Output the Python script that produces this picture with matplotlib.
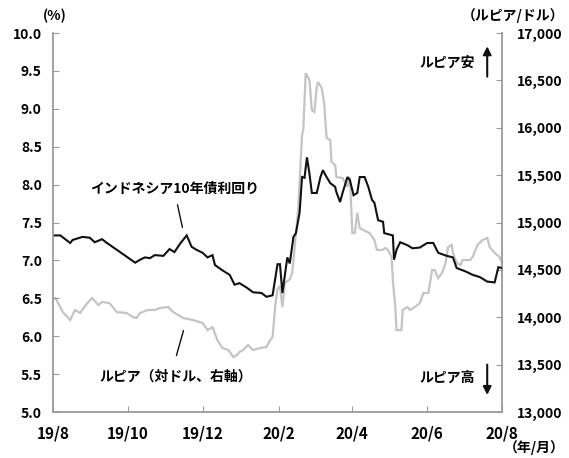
import matplotlib
matplotlib.use("Agg")
import matplotlib.pyplot as plt
import pandas as pd

plt.rcParams['font.family'] = ['Noto Sans CJK JP', 'DejaVu Sans']
plt.rcParams['font.weight'] = 'bold'

# Indonesia 10-year government bond yield (%)
yield_dates = [
    "2019-08-01", "2019-08-07", "2019-08-15", "2019-08-17", "2019-08-25", "2019-08-31",
    "2019-09-04", "2019-09-10", "2019-09-14", "2019-09-22", "2019-09-30",
    "2019-10-07", "2019-10-11", "2019-10-15", "2019-10-19", "2019-10-23", "2019-10-30",
    "2019-11-04", "2019-11-08", "2019-11-13", "2019-11-18", "2019-11-22", "2019-11-26",
    "2019-12-01", "2019-12-05", "2019-12-09", "2019-12-11", "2019-12-17", "2019-12-23",
    "2019-12-27", "2019-12-31", "2020-01-06", "2020-01-11", "2020-01-18", "2020-01-22",
    "2020-01-27", "2020-01-31", "2020-02-02", "2020-02-04", "2020-02-08", "2020-02-10",
    "2020-02-13", "2020-02-15", "2020-02-18", "2020-02-20", "2020-02-22", "2020-02-24",
    "2020-02-26", "2020-02-28", "2020-03-03", "2020-03-06", "2020-03-08", "2020-03-11",
    "2020-03-14", "2020-03-18", "2020-03-19", "2020-03-22", "2020-03-24", "2020-03-28",
    "2020-03-30", "2020-04-02", "2020-04-05", "2020-04-07", "2020-04-11", "2020-04-14",
    "2020-04-17", "2020-04-19", "2020-04-22", "2020-04-26", "2020-04-27", "2020-05-04",
    "2020-05-05", "2020-05-07", "2020-05-10", "2020-05-16", "2020-05-20", "2020-05-26",
    "2020-06-01", "2020-06-06", "2020-06-10", "2020-06-17", "2020-06-22", "2020-06-25",
    "2020-07-03", "2020-07-08", "2020-07-14", "2020-07-20", "2020-07-26", "2020-07-29",
    "2020-08-01",
]
yield_values = [
    7.33, 7.33, 7.23, 7.27, 7.31, 7.30,
    7.24, 7.28, 7.23, 7.14, 7.05,
    6.97, 7.01, 7.04, 7.03, 7.07, 7.06,
    7.15, 7.11, 7.23, 7.33, 7.18, 7.14,
    7.10, 7.04, 7.07, 6.94, 6.87, 6.81,
    6.68, 6.70, 6.64, 6.58, 6.57, 6.52,
    6.54, 6.95, 6.95, 6.57, 7.04, 6.96,
    7.31, 7.36, 7.63, 8.10, 8.09, 8.36,
    8.15, 7.89, 7.89, 8.10, 8.19, 8.10,
    8.02, 7.97, 7.90, 7.77, 7.89, 8.10,
    8.06, 7.86, 7.89, 8.10, 8.10, 7.97,
    7.80, 7.76, 7.53, 7.51, 7.36, 7.33,
    7.01, 7.14, 7.24, 7.20, 7.16, 7.17,
    7.23, 7.23, 7.10, 7.06, 7.04, 6.90,
    6.85, 6.81, 6.78, 6.72, 6.71, 6.91,
    6.90,
]

# Rupiah per US dollar (right axis)
idr_dates = [
    "2019-08-01", "2019-08-03", "2019-08-09", "2019-08-15", "2019-08-19", "2019-08-23",
    "2019-08-29", "2019-09-02", "2019-09-07", "2019-09-10", "2019-09-16", "2019-09-22",
    "2019-09-30", "2019-10-05", "2019-10-08", "2019-10-11", "2019-10-17", "2019-10-23",
    "2019-10-27", "2019-11-03", "2019-11-07", "2019-11-15", "2019-11-23", "2019-12-01",
    "2019-12-05", "2019-12-09", "2019-12-13", "2019-12-17", "2019-12-22", "2019-12-26",
    "2019-12-29", "2019-12-31", "2020-01-03", "2020-01-07", "2020-01-11", "2020-01-17",
    "2020-01-22", "2020-01-25", "2020-01-27", "2020-01-29", "2020-01-31", "2020-02-02",
    "2020-02-04", "2020-02-06", "2020-02-10", "2020-02-12", "2020-02-14", "2020-02-17",
    "2020-02-20", "2020-02-21", "2020-02-23", "2020-02-26", "2020-02-28", "2020-03-01",
    "2020-03-03", "2020-03-04", "2020-03-07", "2020-03-09", "2020-03-11", "2020-03-14",
    "2020-03-15", "2020-03-18", "2020-03-19", "2020-03-24", "2020-03-28", "2020-03-30",
    "2020-04-01", "2020-04-03", "2020-04-05", "2020-04-07", "2020-04-10", "2020-04-15",
    "2020-04-19", "2020-04-21", "2020-04-25", "2020-04-28", "2020-04-30", "2020-05-03",
    "2020-05-04", "2020-05-06", "2020-05-07", "2020-05-11", "2020-05-12", "2020-05-16",
    "2020-05-18", "2020-05-23", "2020-05-26", "2020-05-29", "2020-06-02", "2020-06-05",
    "2020-06-07", "2020-06-10", "2020-06-13", "2020-06-16", "2020-06-18", "2020-06-21",
    "2020-06-22", "2020-06-25", "2020-06-28", "2020-06-30", "2020-07-06", "2020-07-08",
    "2020-07-12", "2020-07-16", "2020-07-20", "2020-07-22", "2020-07-26", "2020-07-30",
    "2020-08-01",
]
idr_values = [
    14200, 14203, 14055, 13971, 14077, 14045,
    14150, 14203, 14129, 14161, 14150, 14055,
    14045, 14003, 13992, 14045, 14077, 14077,
    14098, 14108, 14055, 13992, 13971, 13939,
    13865, 13897, 13760, 13676, 13654, 13580,
    13602, 13633, 13654, 13707, 13654, 13676,
    13686, 13760, 13792, 14100, 14300, 14330,
    14108, 14361, 14400, 14467, 14741, 15164,
    15923, 15976, 16578, 16504, 16187, 16166,
    16430, 16483, 16420, 16261, 15892, 15871,
    15639, 15607, 15480, 15470, 15375, 15480,
    14889, 14889, 15100, 14942, 14921, 14889,
    14815, 14710, 14710, 14731, 14710, 14636,
    14393, 14108, 13865, 13865, 14077, 14108,
    14077, 14118, 14150, 14256, 14256, 14499,
    14499, 14414, 14467, 14573, 14741, 14763,
    14678, 14573, 14551, 14604, 14604, 14636,
    14763, 14815, 14837, 14741, 14678, 14636,
    14573,
]

tick_dates = ["2019-08-01", "2019-10-01", "2019-12-01", "2020-02-01",
              "2020-04-01", "2020-06-01", "2020-08-01"]
tick_labels = ["19/8", "19/10", "19/12", "20/2", "20/4", "20/6", "20/8"]
left_ticks = [5.0, 5.5, 6.0, 6.5, 7.0, 7.5, 8.0, 8.5, 9.0, 9.5, 10.0]
right_ticks = [13000, 13500, 14000, 14500, 15000, 15500, 16000, 16500, 17000]

SPINE = "#9a9a9a"
FS = 10

fig = plt.figure(figsize=(5.69, 4.58), dpi=100)
ax = fig.add_axes([0.0931, 0.1004, 0.7892, 0.8275])
ax2 = ax.twinx()
ax.set_zorder(ax2.get_zorder() + 1)
ax.patch.set_visible(False)

ax2.plot(pd.to_datetime(idr_dates), idr_values, color="#c4c4c4", lw=1.6,
         solid_joinstyle="miter")
ax.plot(pd.to_datetime(yield_dates), yield_values, color="#111111", lw=1.5,
        solid_joinstyle="miter")

ax.set_xlim(pd.Timestamp("2019-08-01"), pd.Timestamp("2020-08-01"))
ax.set_ylim(5.0, 10.0)
ax2.set_ylim(13000, 17000)

ax.set_xticks(pd.to_datetime(tick_dates))
ax.set_xticklabels(tick_labels, fontsize=FS + 1)
ax.set_yticks(left_ticks)
ax.set_yticklabels([f"{v:.1f}" for v in left_ticks], fontsize=FS)
ax2.set_yticks(right_ticks)
ax2.set_yticklabels([f"{v:,}" for v in right_ticks], fontsize=FS)

for a in (ax, ax2):
    a.spines["top"].set_visible(False)
    for s in ("left", "right", "bottom"):
        a.spines[s].set_color(SPINE)
        a.spines[s].set_linewidth(1.3)
ax.spines["right"].set_visible(False)
ax2.spines["left"].set_visible(False)
ax2.spines["bottom"].set_visible(False)

ax.tick_params(axis="y", direction="in", length=4, color=SPINE, pad=8)
ax.tick_params(axis="x", direction="in", length=4, color=SPINE, pad=10)
ax2.tick_params(axis="y", direction="in", length=4, color=SPINE, pad=11)

# unit captions
fig.text(55 / 569, 1 - 16 / 458, "(%)", ha="center", va="center", fontsize=FS)
fig.text(513 / 569, 1 - 16 / 458, "（ルピア/ドル）", ha="center", va="center", fontsize=FS)
fig.text(534 / 569, 1 - 448 / 458, "（年/月）", ha="center", va="center", fontsize=FS)

# series labels with leader lines
ax.annotate("", xy=(pd.Timestamp("2019-11-15"), 7.40),
            xytext=(pd.Timestamp("2019-11-10"), 7.77),
            arrowprops=dict(arrowstyle="-", color="#111111", lw=1.0))
ax.text(pd.Timestamp("2019-11-08"), 7.95, "インドネシア10年債利回り",
        ha="center", va="center", fontsize=FS)
ax.annotate("", xy=(pd.Timestamp("2019-11-16"), 6.11),
            xytext=(pd.Timestamp("2019-11-09"), 5.71),
            arrowprops=dict(arrowstyle="-", color="#111111", lw=1.0))
ax.text(pd.Timestamp("2019-11-09"), 5.47, "ルピア（対ドル、右軸）",
        ha="center", va="center", fontsize=FS)

# direction notes for the currency axis
ax.text(0.877, 0.921, "ルピア安", transform=ax.transAxes, ha="center",
        va="center", fontsize=FS)
ax.annotate("", xy=(0.967, 0.965), xytext=(0.967, 0.885), xycoords="axes fraction",
            arrowprops=dict(arrowstyle="-|>", color="#111111", lw=1.5,
                            mutation_scale=12, shrinkA=0, shrinkB=0))
ax.text(0.877, 0.09, "ルピア高", transform=ax.transAxes, ha="center",
        va="center", fontsize=FS)
ax.annotate("", xy=(0.967, 0.045), xytext=(0.967, 0.125), xycoords="axes fraction",
            arrowprops=dict(arrowstyle="-|>", color="#111111", lw=1.5,
                            mutation_scale=12, shrinkA=0, shrinkB=0))

fig.savefig("out.png", dpi=100)
